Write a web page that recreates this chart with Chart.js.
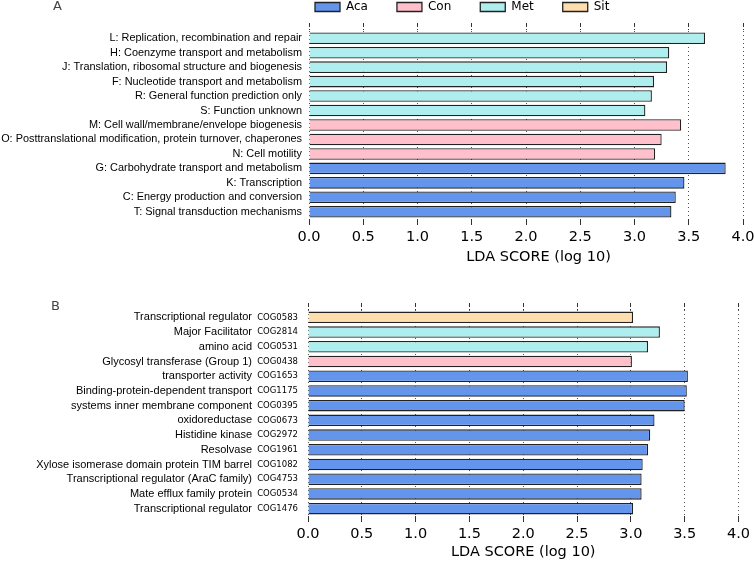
<!DOCTYPE html>
<html>
<head>
<meta charset="utf-8">
<script src="https://cdn.jsdelivr.net/npm/chart.js@4.4.0/dist/chart.umd.min.js"></script>
<style>
  html, body { margin: 0; padding: 0; background: #fff; }
  body { position: relative; width: 754px; height: 563px; overflow: hidden; }
  canvas { position: absolute; left: 0; }
  #chartA { top: -28px; }
  #chartB { top: 280px; }
  .panel { position: absolute; font: 13px "DejaVu Sans"; line-height: 13px; color: #444; }
</style>
</head>
<body>
<!-- panel A is wider than the page: its axes run past the right edge -->
<canvas id="chartA" width="768" height="296"></canvas>
<canvas id="chartB" width="754" height="283"></canvas>
<div class="panel" style="left:53px; top:-1px">A</div>
<div class="panel" style="left:51px; top:299px">B</div>
<script>
// groups shown in the legend
const groups = ['Aca', 'Con', 'Met', 'Sit'];
const groupColors = ['#6495ED', '#FFC0CB', '#AFEEEE', '#FFDEAD'];

// panel A: COG functional categories
const cogLabels = [
  'L: Replication, recombination and repair',
  'H: Coenzyme transport and metabolism',
  'J: Translation, ribosomal structure and biogenesis',
  'F: Nucleotide transport and metabolism',
  'R: General function prediction only',
  'S: Function unknown',
  'M: Cell wall/membrane/envelope biogenesis',
  'O: Posttranslational modification, protein turnover, chaperones',
  'N: Cell motility',
  'G: Carbohydrate transport and metabolism',
  'K: Transcription',
  'C: Energy production and conversion',
  'T: Signal transduction mechanisms'
];
const cogScores = [3.65, 3.32, 3.30, 3.18, 3.16, 3.10, 3.43, 3.25, 3.19, 3.84, 3.46, 3.38, 3.34];
const cogGroups = ['Met', 'Met', 'Met', 'Met', 'Met', 'Met', 'Con', 'Con', 'Con', 'Aca', 'Aca', 'Aca', 'Aca'];

// panel B: individual COGs
const featNames = [
  'Transcriptional regulator',
  'Major Facilitator',
  'amino acid',
  'Glycosyl transferase (Group 1)',
  'transporter activity',
  'Binding-protein-dependent transport',
  'systems inner membrane component',
  'oxidoreductase',
  'Histidine kinase',
  'Resolvase',
  'Xylose isomerase domain protein TIM barrel',
  'Transcriptional regulator (AraC family)',
  'Mate efflux family protein',
  'Transcriptional regulator'
];
const featCodes = ['COG0583', 'COG2814', 'COG0531', 'COG0438', 'COG1653', 'COG1175', 'COG0395',
  'COG0673', 'COG2972', 'COG1961', 'COG1082', 'COG4753', 'COG0534', 'COG1476'];
const featScores = [3.02, 3.27, 3.16, 3.01, 3.53, 3.52, 3.50, 3.22, 3.18, 3.16, 3.11, 3.10, 3.10, 3.02];
const featGroups = ['Sit', 'Met', 'Met', 'Con', 'Aca', 'Aca', 'Aca', 'Aca', 'Aca', 'Aca', 'Aca', 'Aca', 'Aca', 'Aca'];

// x axis: LDA score, ticks every 0.5
const scoreStep = 0.5;
const topMax = 4.23;   // panel A axes run a bit past 4.0
const bottomMax = 4.0;

Chart.defaults.font.family = 'DejaVu Sans';
Chart.defaults.color = '#000';

function groupDatasets(scores, classes, barPct) {
  return groups.map((g, i) => ({
    label: g,
    data: scores.map((v, k) => classes[k] === g ? v : null),
    backgroundColor: groupColors[i],
    borderColor: '#222',
    borderWidth: 1.3,
    grouped: false,
    barPercentage: barPct,
    categoryPercentage: 1,
    xAxisID: 'x',
    yAxisID: 'y'
  }));
}

function fmtTick(v) {
  return Math.abs(v / scoreStep - Math.round(v / scoreStep)) < 1e-6 ? v.toFixed(1) : '';
}

function scoreAxis(max, height) {
  return {
    type: 'linear', position: 'bottom', min: 0, max: max, bounds: 'data', z: 1,
    ticks: { stepSize: scoreStep, includeBounds: false, padding: 4, maxRotation: 0, autoSkip: false,
      color: '#000', font: { size: 14.5 }, callback: fmtTick },
    grid: { color: '#555', lineWidth: 1, tickLength: 6, tickColor: '#333', tickBorderDash: [] },
    border: { display: false, dash: [1, 3] },
    title: { display: true, text: 'LDA SCORE (log 10)', color: '#000', font: { size: 14.5 },
      padding: { top: 0, bottom: 2 } },
    afterFit: s => { s.height = height; }
  };
}

function topTickAxis(max, height) {
  return {
    type: 'linear', position: 'top', min: 0, max: max, bounds: 'data',
    ticks: { display: false, stepSize: scoreStep, includeBounds: false },
    grid: { drawOnChartArea: false, tickLength: height, tickColor: '#333', tickBorderDash: [4, 2, 1, 2] },
    border: { display: false },
    afterFit: s => { s.height = height; }
  };
}

function labelAxis(extra) {
  return Object.assign({
    type: 'category', position: 'left',
    grid: { display: false, drawTicks: false }, border: { display: false }
  }, extra);
}

// the legend starts above the bars rather than at the canvas edge
const legendLeft = 286;
const shiftLegend = {
  id: 'shiftLegend',
  afterLayout(chart) { chart.legend.left = legendLeft; }
};

// panel A
new Chart(document.getElementById('chartA'), {
  type: 'bar',
  data: { labels: cogLabels, datasets: groupDatasets(cogScores, cogGroups, 0.8) },
  plugins: [shiftLegend],
  options: {
    indexAxis: 'y',
    responsive: false,
    animation: false,
    devicePixelRatio: 1,
    layout: { padding: 0 },
    plugins: {
      legend: {
        position: 'top', align: 'start',
        labels: { boxWidth: 25, boxHeight: 9, padding: 29, color: '#000', font: { size: 12 } }
      },
      tooltip: { enabled: false }
    },
    scales: {
      y: labelAxis({
        ticks: { autoSkip: false, padding: 7, color: '#000', font: { family: 'Liberation Sans', size: 10.9 } },
        afterFit: s => { s.width = 309; }
      }),
      x: scoreAxis(topMax, 49),
      xTop: topTickAxis(topMax, 8)
    }
  }
});

// panel B
new Chart(document.getElementById('chartB'), {
  type: 'bar',
  data: { labels: featCodes, datasets: groupDatasets(featScores, featGroups, 0.78) },
  options: {
    indexAxis: 'y',
    responsive: false,
    animation: false,
    devicePixelRatio: 1,
    layout: { padding: { left: 0, right: 12.3, top: 23, bottom: 0 } },
    plugins: { legend: { display: false }, tooltip: { enabled: false } },
    scales: {
      y: labelAxis({
        weight: 0,
        ticks: { autoSkip: false, padding: 10, color: '#000', font: { size: 8.5 } },
        afterFit: s => { s.width = 52; }
      }),
      yName: labelAxis({
        weight: 1, labels: featNames, offset: true,
        ticks: { autoSkip: false, padding: 4, color: '#000', font: { family: 'Liberation Sans', size: 11 } },
        afterFit: s => { s.width = 256; }
      }),
      x: scoreAxis(bottomMax, 47),
      xTop: topTickAxis(bottomMax, 7)
    }
  }
});
</script>
</body>
</html>
